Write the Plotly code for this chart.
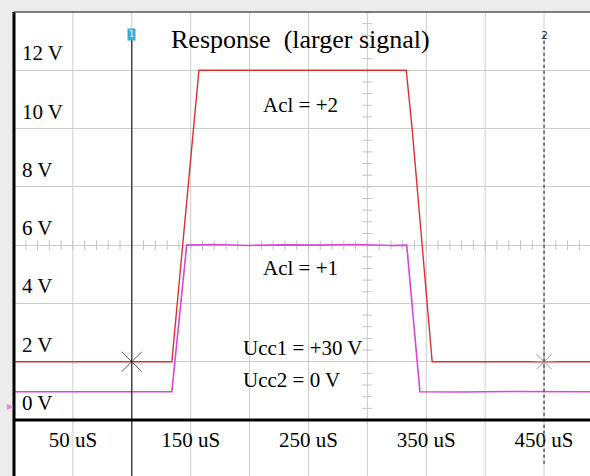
import plotly.graph_objects as go

# ---- data ----
red_t = [0, 134, 157, 333, 338, 355, 490]          # uS
red_v = [2.0, 2.0, 12.0, 12.0, 10.0, 2.0, 2.0]     # V

mag_t = [0, 60, 90, 134, 146.6, 170, 200, 230, 260, 290, 320, 333.4, 344.6, 380, 420, 460, 490]
mag_v = [0.97, 0.98, 0.96, 0.97, 6.0, 6.02, 5.99, 6.01, 6.0, 6.02, 5.99, 6.0, 0.97, 0.96, 0.98, 0.97, 0.97]

x_tick_vals = [50, 150, 250, 350, 450]
x_tick_text = ["50 uS", "150 uS", "250 uS", "350 uS", "450 uS"]
y_label_vals = [0, 2, 4, 6, 8, 10, 12]
y_label_text = ["0 V", "2 V", "4 V", "6 V", "8 V", "10 V", "12 V"]
x_grid = [0, 50, 100, 150, 200, 250, 300, 350, 400, 450]

cursor1_t = 100
cursor2_t = 450
cursor_v = 2
trigger_t = 333.5

title_text = "Response&nbsp;&nbsp;(larger signal)"
notes = [("Acl = +2", 210, 10.8), ("Acl = +1", 210, 5.2),
         ("Ucc1 = +30 V", 193, 2.47), ("Ucc2 = 0 V", 193, 1.37)]

SERIF = "Liberation Serif, Times New Roman, serif"
X_MAX = 489
Y_MAX = 14
BOT = -56 / 408

fig = go.Figure()

# graticule minor ticks along centre lines
fig.add_trace(go.Scatter(x=[t for t in range(0, 491, 10)], y=[6] * 50, mode="markers",
                         marker=dict(symbol="line-ns-open", size=7, color="#c4c4c4",
                                     line=dict(width=1, color="#c4c4c4")),
                         hoverinfo="skip", showlegend=False))
fig.add_trace(go.Scatter(x=[300] * 36, y=[i * 0.4 for i in range(36)], mode="markers",
                         marker=dict(symbol="line-ew-open", size=7, color="#c4c4c4",
                                     line=dict(width=1, color="#c4c4c4")),
                         hoverinfo="skip", showlegend=False))

fig.add_trace(go.Scatter(x=mag_t, y=mag_v, mode="lines",
                         line=dict(color="#d946d9", width=1.6), showlegend=False))
fig.add_trace(go.Scatter(x=red_t, y=red_v, mode="lines",
                         line=dict(color="#d8332f", width=1.4), showlegend=False))

# cursor markers
fig.add_trace(go.Scatter(x=[cursor1_t], y=[cursor_v], mode="markers",
                         marker=dict(symbol="x-thin-open", size=20, color="#555",
                                     line=dict(width=1, color="#555")),
                         showlegend=False))
fig.add_trace(go.Scatter(x=[cursor2_t], y=[cursor_v], mode="markers",
                         marker=dict(symbol="asterisk-open", size=18, color="#999",
                                     line=dict(width=1, color="#999")),
                         showlegend=False))
# small trigger arrow below the axis
fig.add_trace(go.Scatter(x=[trigger_t], y=[-1.75], mode="markers", cliponaxis=False,
                         marker=dict(symbol="arrow-up-open", size=8, color="#a0a0e6",
                                     line=dict(width=1, color="#a0a0e6")),
                         hoverinfo="skip", showlegend=False))

shapes = []
# background strips (left and top)
shapes.append(dict(type="rect", xref="paper", yref="paper", x0=-14 / 576, x1=0, y0=BOT, y1=1 + 12 / 408,
                   fillcolor="#ececec", line=dict(width=0), layer="below"))
shapes.append(dict(type="rect", xref="paper", yref="paper", x0=-14 / 576, x1=1, y0=1, y1=1 + 12 / 408,
                   fillcolor="#ececec", line=dict(width=0), layer="below"))
# vertical grid lines (extend below the plot)
for g in x_grid:
    shapes.append(dict(type="line", xref="x", yref="paper", x0=g, x1=g, y0=BOT, y1=1,
                       line=dict(color="#cccccc", width=1), layer="below"))
# cursor 1
shapes.append(dict(type="line", xref="x", yref="paper", x0=cursor1_t, x1=cursor1_t, y0=BOT, y1=0.945,
                   line=dict(color="#222", width=1.2)))
# cursor 2
shapes.append(dict(type="line", xref="x", yref="paper", x0=cursor2_t, x1=cursor2_t, y0=BOT + 0.03, y1=0.945,
                   line=dict(color="#555", width=1.5, dash="dot")))
# borders
shapes.append(dict(type="line", xref="paper", yref="paper", x0=0, x1=0, y0=BOT, y1=1,
                   line=dict(color="black", width=3)))
shapes.append(dict(type="line", xref="paper", yref="paper", x0=0, x1=1, y0=0, y1=0,
                   line=dict(color="black", width=3)))
shapes.append(dict(type="line", xref="paper", yref="paper", x0=0, x1=1, y0=1, y1=1,
                   line=dict(color="#555", width=1.5)))

annotations = []
for v, txt in zip(y_label_vals, y_label_text):
    annotations.append(dict(x=0, y=v, xref="x", yref="y", text=txt, showarrow=False,
                            xanchor="left", yanchor="bottom", xshift=6, yshift=3,
                            font=dict(family=SERIF, size=21, color="black")))
annotations.append(dict(x=132, y=13.05, xref="x", yref="y", text=title_text, showarrow=False,
                        xanchor="left", yanchor="middle",
                        font=dict(family=SERIF, size=26, color="black")))
for txt, t, v in notes:
    annotations.append(dict(x=t, y=v, xref="x", yref="y", text=txt, showarrow=False,
                            xanchor="left", yanchor="middle",
                            font=dict(family=SERIF, size=21, color="black")))
annotations.append(dict(x=cursor1_t, y=(420 - 28) / 408, xref="x", yref="paper", text="1",
                        showarrow=False, bgcolor="#35ace0", borderpad=1,
                        font=dict(family="DejaVu Sans", size=8, color="white")))
annotations.append(dict(x=cursor2_t, y=(420 - 27) / 408, xref="x", yref="paper", text="2",
                        showarrow=False, font=dict(family="DejaVu Sans", size=11, color="#333")))
annotations.append(dict(x=-9 / 576, y=7 / 408, xref="paper", yref="paper", text="▶",
                        showarrow=False, font=dict(size=8, color="#e48ae4")))

fig.update_layout(
    width=590, height=476,
    margin=dict(l=14, r=0, t=12, b=56),
    paper_bgcolor="white", plot_bgcolor="white",
    shapes=shapes, annotations=annotations,
    xaxis=dict(range=[0, X_MAX], showgrid=False, zeroline=False, showline=False,
               tickvals=x_tick_vals, ticktext=x_tick_text, ticks="", ticklabelstandoff=5,
               tickfont=dict(family=SERIF, size=21, color="black"), fixedrange=True),
    yaxis=dict(range=[0, Y_MAX], showgrid=True, dtick=2, gridcolor="#cccccc", gridwidth=1,
               zeroline=False, showline=False, showticklabels=False, fixedrange=True),
    showlegend=False,
)

fig.write_html("out.html", config={"displayModeBar": False},
               post_script="document.body.style.margin='0';document.body.style.overflow='hidden';")
